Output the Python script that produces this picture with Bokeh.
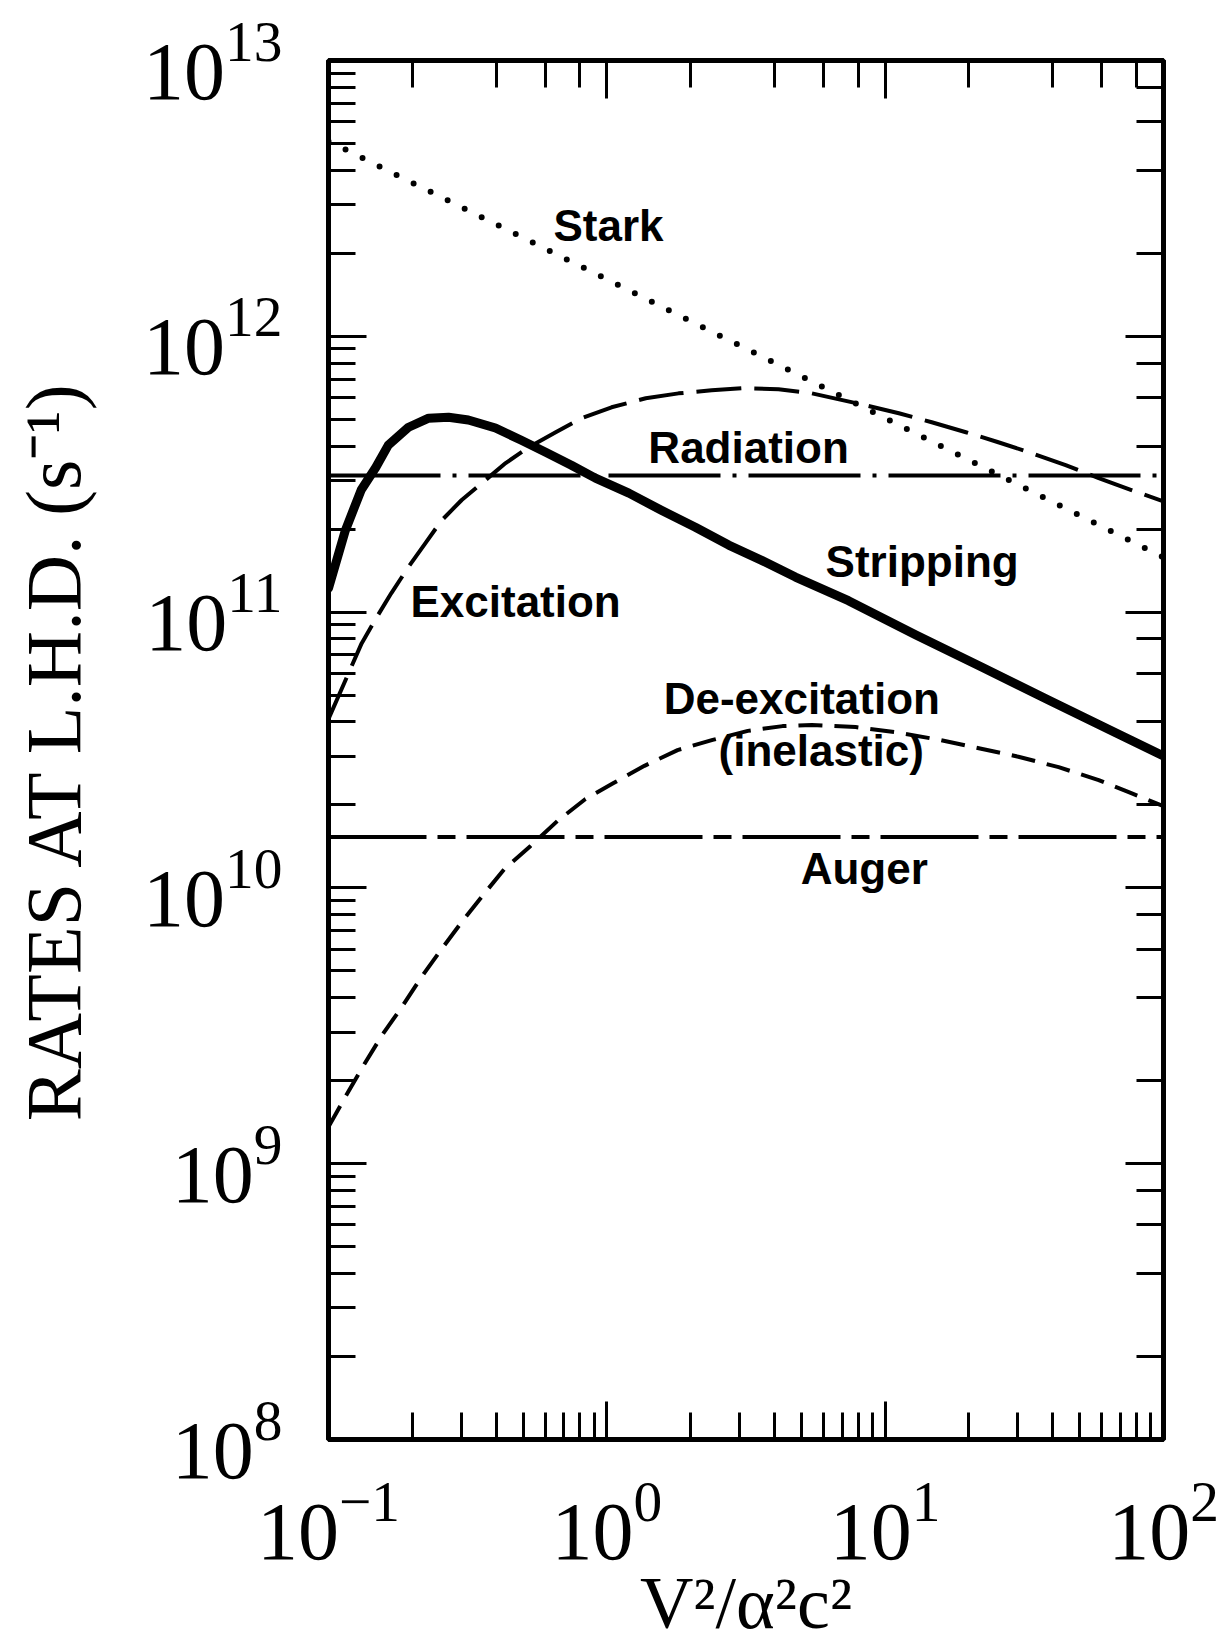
from bokeh.plotting import figure
from bokeh.models import LogAxis, Label, Range1d, CustomJSTickFormatter
from bokeh.embed import file_html
from bokeh.resources import INLINE

# ---- data ----
x_stark = [0.1, 1.0, 10.0, 100.0]
y_stark = [5.1e12, 1.61e12, 5.05e11, 1.58e11]

x_radiation = [0.1, 100.0]
y_radiation = [3.13e11, 3.13e11]

x_auger = [0.1, 100.0]
y_auger = [1.53e10, 1.53e10]

x_stripping = [0.1, 0.115, 0.131, 0.148, 0.164, 0.194, 0.229, 0.27, 0.318, 0.398,
               0.493, 0.603, 0.746, 0.91, 1.2, 1.57, 2.08, 2.74, 3.6, 4.76,
               7.38, 12.9, 22.2, 38.6, 67.3, 100.0]
y_stripping = [1.22e11, 1.98e11, 2.77e11, 3.35e11, 4.03e11, 4.68e11, 5.05e11, 5.09e11,
               4.97e11, 4.65e11, 4.20e11, 3.80e11, 3.41e11, 3.06e11, 2.70e11, 2.34e11,
               2.03e11, 1.75e11, 1.54e11, 1.34e11, 1.10e11, 8.26e10, 6.32e10, 4.80e10,
               3.65e10, 3.01e10]

x_excitation = [0.1, 0.118, 0.1315, 0.151, 0.168, 0.194, 0.223, 0.255, 0.301, 0.355,
                0.433, 0.524, 0.655, 0.811, 1.04, 1.38, 1.81, 2.38, 3.15, 4.14,
                5.45, 8.51, 11.2, 14.7, 19.5, 25.5, 33.6, 44.5, 58.5, 76.7, 100.0]
y_excitation = [4.1e10, 6.0e10, 7.7e10, 9.8e10, 1.17e11, 1.46e11, 1.78e11, 2.15e11,
                2.55e11, 2.93e11, 3.47e11, 3.96e11, 4.49e11, 5.05e11, 5.53e11, 5.96e11,
                6.21e11, 6.37e11, 6.49e11, 6.43e11, 6.21e11, 5.62e11, 5.26e11, 4.88e11,
                4.49e11, 4.13e11, 3.77e11, 3.41e11, 3.06e11, 2.77e11, 2.52e11]

x_deexcitation = [0.1, 0.115, 0.1346, 0.156, 0.1845, 0.216, 0.257, 0.303, 0.357, 0.4285,
                  0.532, 0.665, 0.838, 1.057, 1.365, 1.795, 2.40, 3.21, 4.28, 5.45,
                  7.83, 10.9, 15.7, 21.7, 30.1, 42.0, 58.5, 76.2, 100.0]
y_deexcitation = [1.36e9, 1.75e9, 2.30e9, 2.93e9, 3.73e9, 4.76e9, 6.07e9, 7.59e9, 9.35e9,
                  1.17e10, 1.42e10, 1.75e10, 2.10e10, 2.40e10, 2.77e10, 3.16e10, 3.44e10,
                  3.71e10, 3.86e10, 3.90e10, 3.83e10, 3.67e10, 3.44e10, 3.21e10, 2.99e10,
                  2.74e10, 2.46e10, 2.21e10, 1.98e10]

label_texts = ["Stark", "Radiation", "Stripping", "Excitation", "De-excitation",
               "(inelastic)", "Auger"]
label_x = [0.643, 1.41, 6.11, 0.197, 1.60, 2.52, 4.97]
label_y = [2.53e12, 3.95e11, 1.52e11, 1.09e11, 4.86e10, 3.16e10, 1.18e10]

x_title = "V\u00b2/\u03b1\u00b2c\u00b2"
y_title = "RATES AT L.H.D. (s\u207b\u00b9)"

# ---- figure ----
p = figure(width=1225, height=1646, x_axis_type="log", y_axis_type="log",
           x_range=Range1d(0.1, 100), y_range=Range1d(1e8, 1e13),
           output_backend="svg", toolbar_location=None,
           min_border_left=328, min_border_right=62,
           min_border_top=60, min_border_bottom=206,
           background_fill_color="white", border_fill_color="white")
p.grid.visible = False
p.outline_line_color = "black"
p.outline_line_width = 5

blank = CustomJSTickFormatter(code="return ''")
right_axis = LogAxis(formatter=blank)
top_axis = LogAxis(formatter=blank)
p.add_layout(right_axis, "right")
p.add_layout(top_axis, "above")

for ax in p.axis:
    ax.axis_line_width = 5
    ax.axis_line_color = "black"
    ax.major_tick_in = 38
    ax.major_tick_out = 0
    ax.minor_tick_in = 27
    ax.minor_tick_out = 0
    ax.major_tick_line_width = 3
    ax.minor_tick_line_width = 3
    ax.major_tick_line_color = "black"
    ax.minor_tick_line_color = "black"

for ax in (right_axis, top_axis):
    ax.major_label_text_font_size = "1px"
    ax.major_label_standoff = 0

xa = p.below[0]
ya = p.left[0]
for ax in (xa, ya):
    ax.major_label_text_font = "Liberation Serif"
    ax.major_label_text_font_size = "82px"
    ax.major_label_text_color = "black"
    ax.axis_label_text_font = "Liberation Serif"
    ax.axis_label_text_font_style = "normal"
    ax.axis_label_text_color = "black"

xa.axis_label = x_title
xa.axis_label_text_font_size = "74px"
xa.major_label_standoff = 43
xa.axis_label_standoff = 0
ya.axis_label = y_title
ya.axis_label_text_font_size = "78px"
ya.major_label_standoff = 46
ya.axis_label_standoff = 43

# ---- curves ----
p.line(x_stark, y_stark, line_color="black", line_width=6,
       line_dash="0 19", line_cap="round")
p.line(x_radiation, y_radiation, line_color="black", line_width=4,
       line_dash="112 12 4 12")
p.line(x_auger, y_auger, line_color="black", line_width=4,
       line_dash="98 11 18 11")
p.line(x_excitation, y_excitation, line_color="black", line_width=4,
       line_dash="45 13", line_join="round")
p.line(x_deexcitation, y_deexcitation, line_color="black", line_width=4,
       line_dash="24 12", line_join="round")
p.line(x_stripping, y_stripping, line_color="black", line_width=9,
       line_join="round", line_cap="round")

for t, lx, ly in zip(label_texts, label_x, label_y):
    p.add_layout(Label(x=lx, y=ly, text=t, text_font="Liberation Sans",
                       text_font_style="bold", text_font_size="44px",
                       text_color="black", text_baseline="alphabetic",
                       text_align="left"))

open("out.html", "w").write(file_html(p, INLINE))
